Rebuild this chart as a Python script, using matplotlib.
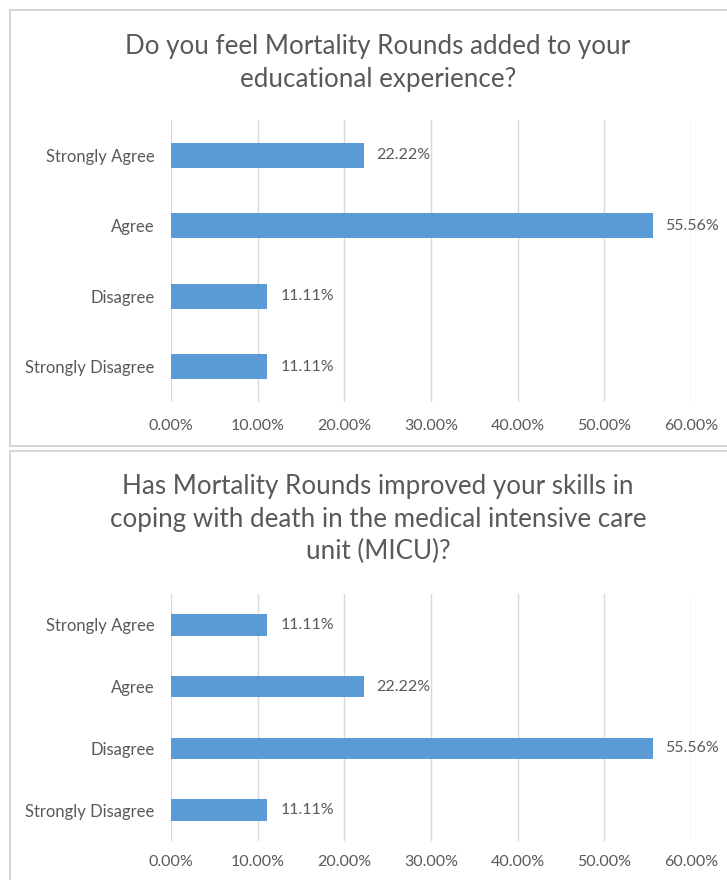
import matplotlib.pyplot as plt
from matplotlib.patches import Rectangle
from matplotlib.ticker import FuncFormatter

categories = ["Strongly Agree", "Agree", "Disagree", "Strongly Disagree"]
added_values = [22.22, 55.56, 11.11, 11.11]
coping_values = [11.11, 22.22, 55.56, 11.11]
title_added = "Do you feel Mortality Rounds added to your\neducational experience?"
title_coping = ("Has Mortality Rounds improved your skills in\n"
                "coping with death in the medical intensive care\nunit (MICU)?")
ticks = [0, 10, 20, 30, 40, 50, 60]

BAR = "#5B9BD5"
TEXT = "#595959"
GRID = "#D9D9D9"

plt.rcParams['font.family'] = ['Lato', 'DejaVu Sans']

W, H = 727, 880
fig = plt.figure(figsize=(W / 100, H / 100), dpi=100)


def px(x0, y0, x1, y1):
    # pixel box (top-left origin) -> figure fraction rect
    return [x0 / W, 1 - y1 / H, (x1 - x0) / W, (y1 - y0) / H]


# chart frames, kept behind the axes
for y0, y1 in [(10, 446), (451, 900)]:
    fig.patches.append(Rectangle((10 / W, 1 - y1 / H), 740 / W, (y1 - y0) / H,
                                 transform=fig.transFigure, facecolor="white",
                                 edgecolor="#CFCFCF", linewidth=1.2,
                                 zorder=-5))


def panel(rect, values, title, title_y, xpad):
    ax = fig.add_axes(px(*rect))
    y = range(len(categories))
    bars = ax.barh(y, values, height=0.35, color=BAR, zorder=3)
    ax.set_ylim(len(categories) - 0.5, -0.5)
    ax.set_xlim(0, 60)
    ax.set_yticks(list(y))
    ax.set_yticklabels(categories, fontsize=12, color=TEXT)
    ax.set_xticks(ticks)
    ax.xaxis.set_major_formatter(FuncFormatter(lambda v, _: f"{v:.2f}%"))
    ax.tick_params(axis='x', labelsize=11.5, labelcolor=TEXT, length=0,
                   pad=xpad)
    ax.tick_params(axis='y', length=0, pad=12)
    ax.grid(axis='x', color=GRID, linewidth=1, zorder=0)
    for s in ax.spines.values():
        s.set_visible(False)
    ax.set_facecolor("none")
    for b, v in zip(bars, values):
        ax.text(v + 1.5, b.get_y() + b.get_height() / 2, f"{v:.2f}%",
                va='center', ha='left', fontsize=11.5, color=TEXT)
    fig.text(378 / W, 1 - title_y / H, title, ha='center', va='top',
             fontsize=18.7, color=TEXT, linespacing=1.38)
    return ax


panel((171, 120, 691, 402), added_values, title_added, 34, 12)
panel((171, 594, 691, 841), coping_values, title_coping, 474, 10)

fig.savefig("out.png", dpi=100)
